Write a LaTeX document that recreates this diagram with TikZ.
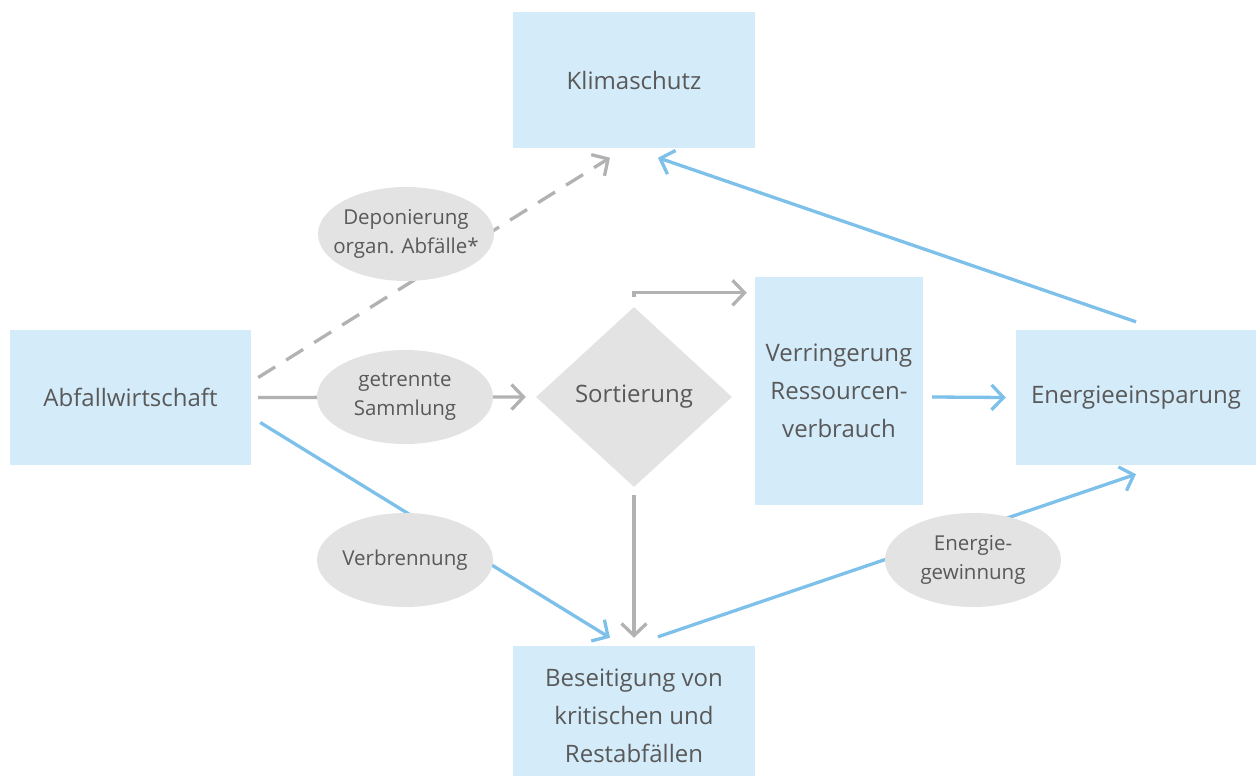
\documentclass[tikz,border=0pt]{standalone}
\usepackage{fontspec}
\setmainfont{Open Sans}
\usetikzlibrary{shapes.geometric,arrows.meta}
\definecolor{boxBlue}{HTML}{D4EBF9}
\definecolor{arrowBlue}{HTML}{7DC0EA}
\definecolor{arrowGray}{HTML}{B2B2B2}
\definecolor{shapeGray}{HTML}{E3E3E3}
\definecolor{textGray}{HTML}{595959}
\tikzstyle{topicBox}=[rectangle,fill=boxBlue,inner sep=0pt,align=center,text=textGray,font=\fontsize{24}{38}\selectfont]
\tikzstyle{stepEllipse}=[ellipse,fill=shapeGray,inner ysep=0pt,inner xsep=-14pt,minimum width=176pt,minimum height=94pt,align=center,text=textGray,font=\fontsize{20.5}{29}\selectfont]
\tikzstyle{barbTip}=[-{Straight Barb[length=12pt,width=25pt,line width=3.3pt]}]
\tikzstyle{flowBlue}=[arrowBlue,line width=3.3pt,barbTip]
\tikzstyle{flowGray}=[arrowGray,line width=3.3pt,barbTip]

\begin{document}
\begin{tikzpicture}[x=1pt,y=-1pt]
\useasboundingbox (0,0) rectangle (1256,776);
        % boxes
        \node[topicBox,minimum width=242pt,minimum height=135pt] (klima) at (634,80) {Klimaschutz};
        \node[topicBox,minimum width=241pt,minimum height=135pt] (abfall) at (130.5,397.5) {Abfallwirtschaft};
        \node[topicBox,minimum width=168pt,minimum height=228pt] (verr) at (839,391) {Verringerung\\Ressourcen-\\verbrauch};
        \node[topicBox,minimum width=240pt,minimum height=135pt] (energie) at (1136,397.5) {Energieeinsparung};
        \node[topicBox,minimum width=242pt,minimum height=140pt] (beseit) at (634,716) {Beseitigung von\\kritischen und\\Restabfällen};
        \node[diamond,fill=shapeGray,inner sep=0pt,minimum width=196pt,minimum height=180pt,text=textGray,font=\fontsize{24}{38}\selectfont] (sort) at (634,397) {Sortierung};
        % connectors
        \draw[flowGray,dash pattern=on 20pt off 13pt] ([xshift=7pt,yshift=20pt]abfall.east) -- ([xshift=-24pt,yshift=-10pt]klima.south);
        \draw[flowGray] ([xshift=7pt]abfall.east) -- ([xshift=-10pt]sort.west);
        \draw[flowGray] ([yshift=10pt]sort.north) |- ([xshift=-8pt,yshift=-16pt]verr.north west);
        \draw[flowGray] ([yshift=-8pt]sort.south) -- ([yshift=8pt]beseit.north);
        \draw[flowBlue] ([xshift=9pt,yshift=-25pt]abfall.east) -- ([xshift=-24pt,yshift=8pt]beseit.north);
        \draw[flowBlue] ([xshift=24pt,yshift=9pt]beseit.north) -- ([yshift=-9pt]energie.south);
        \draw[flowBlue] ([xshift=9pt,yshift=-6pt]verr.east) -- ([xshift=-10pt]energie.west);
        \draw[flowBlue] ([yshift=8pt]energie.north) -- ([xshift=24pt,yshift=-10pt]klima.south);
        % labels on the connectors
        \node[stepEllipse] (depo) at (406,234) {Deponierung\\organ. Abfälle*};
        \node[stepEllipse] (samml) at (405,397) {getrennte\\Sammlung};
        \node[stepEllipse] (verbr) at (405,560) {Verbrennung};
        \node[stepEllipse] (gewinn) at (973,560) {Energie-\\gewinnung};
\end{tikzpicture}
\end{document}
